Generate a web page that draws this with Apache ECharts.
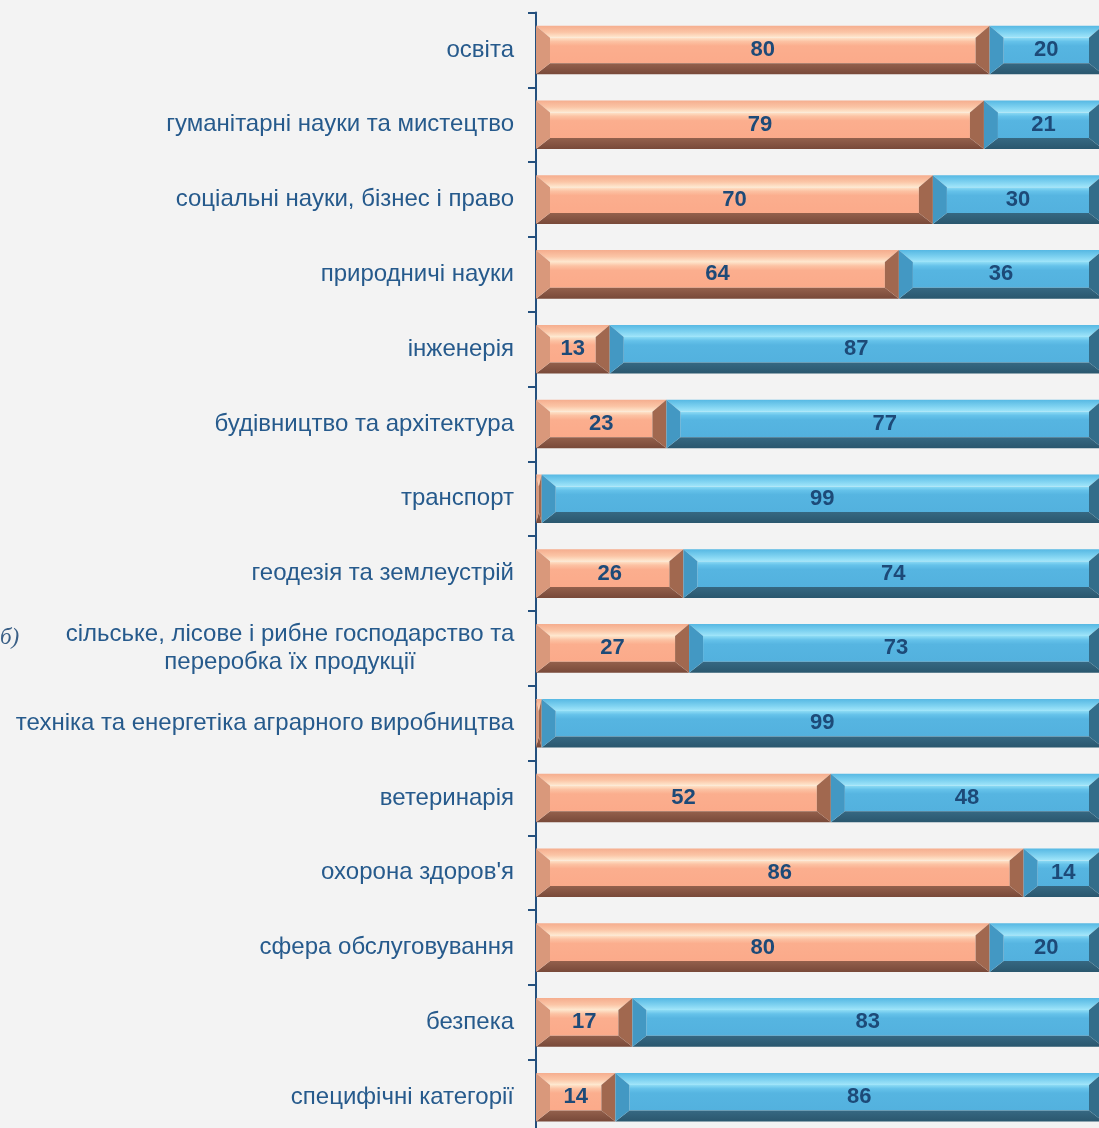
<!DOCTYPE html>
<html>
<head>
<meta charset="utf-8">
<script src="https://cdn.jsdelivr.net/npm/echarts@6/dist/echarts.min.js"></script>
<style>
  html, body { margin: 0; padding: 0; background: #f3f3f3; }
  #chart { width: 1099px; height: 1128px; }
</style>
</head>
<body>
<div id="chart"></div>
<script>
const categories = [
  'освіта',
  'гуманітарні науки та мистецтво',
  'соціальні науки, бізнес і право',
  'природничі науки',
  'інженерія',
  'будівництво та архітектура',
  'транспорт',
  'геодезія та землеустрій',
  'сільське, лісове і рибне господарство та\nпереробка їх продукції',
  'техніка та енергетіка аграрного виробництва',
  'ветеринарія',
  "охорона здоров'я",
  'сфера обслуговування',
  'безпека',
  'специфічні категорії'
]
const orangeValues = [80, 79, 70, 64, 13, 23, 1, 26, 27, 1, 52, 86, 80, 17, 14]
const blueValues = [20, 21, 30, 36, 87, 77, 99, 74, 73, 99, 48, 14, 20, 83, 86]

const textColor = '#265a8c'
const labelColor = '#1d4a78'

function grad(stops) {
  return new echarts.graphic.LinearGradient(0, 0, 0, 1,
    stops.map((c) => ({ offset: c[0], color: c[1] })))
}

// bevel colours for each series: top band, face, bottom band, left cap, right cap
const palettes = [
  {
    top: grad([[0, '#f5ad8e'], [0.55, '#fbc5a6'], [1, '#feead2']]),
    face: grad([[0, '#fee4ca'], [0.15, '#fcc2a3'], [0.32, '#fbae8e'], [1, '#fbaa8a']]),
    bottom: grad([[0, '#93604c'], [1, '#784939']]),
    left: '#d9987b',
    right: '#a1684f'
  },
  {
    top: grad([[0, '#56b8e3'], [0.55, '#7dd1f0'], [1, '#a2e6fa']]),
    face: grad([[0, '#8edcf5'], [0.15, '#65c2ea'], [0.32, '#56b5e1'], [1, '#53b1de']]),
    bottom: grad([[0, '#366882'], [1, '#2a576e']]),
    left: '#4398c3',
    right: '#336d8a'
  }
]

function segments(startVals, vals) {
  return vals.map((v, i) => {
    const s = startVals ? startVals[i] : 0
    return [s, s + v, i, v]
  })
}

function renderBevel(params, api) {
  const idx = api.value(2)
  const v = api.value(3)
  const p0 = api.coord([api.value(0), idx])
  const p1 = api.coord([api.value(1), idx])
  const h = api.size([0, 1])[1] * 0.65
  const x0 = p0[0]
  const x1 = p1[0]
  const w = x1 - x0
  const y0 = p0[1] - h / 2
  const y1 = p0[1] + h / 2
  const bx = Math.min(14, w / 2)
  const bt = 12
  const bb = 11
  const pal = palettes[params.seriesIndex]
  const children = [
    { type: 'rect', shape: { x: x0 + bx, y: y0 + bt, width: Math.max(w - 2 * bx, 0), height: h - bt - bb }, style: { fill: pal.face } },
    { type: 'polygon', shape: { points: [[x0, y0], [x1, y0], [x1 - bx, y0 + bt], [x0 + bx, y0 + bt]] }, style: { fill: pal.top } },
    { type: 'polygon', shape: { points: [[x0, y1], [x1, y1], [x1 - bx, y1 - bb], [x0 + bx, y1 - bb]] }, style: { fill: pal.bottom } },
    { type: 'polygon', shape: { points: [[x0, y0], [x0 + bx, y0 + bt], [x0 + bx, y1 - bb], [x0, y1]] }, style: { fill: pal.left } },
    { type: 'polygon', shape: { points: [[x1, y0], [x1 - bx, y0 + bt], [x1 - bx, y1 - bb], [x1, y1]] }, style: { fill: pal.right } }
  ]
  if (v >= 5) {
    children.push({
      type: 'text',
      x: (x0 + x1) / 2,
      y: p0[1],
      style: {
        text: String(v),
        fill: labelColor,
        font: 'bold 22px "Liberation Sans"',
        align: 'center',
        verticalAlign: 'middle'
      }
    })
  }
  return { type: 'group', children }
}

const chart = echarts.init(document.getElementById('chart'))

chart.setOption({
  backgroundColor: '#f3f3f3',
  animation: false,
  grid: { left: 536, width: 567, top: 12.6, height: 1122, outerBoundsMode: 'none' },
  xAxis: {
    type: 'value',
    min: 0,
    max: 100,
    show: false
  },
  yAxis: {
    type: 'category',
    inverse: true,
    data: categories.map((c) => c.includes('\n')
      ? { value: c, textStyle: { align: 'center', padding: [0, 448, 0, 0] } }
      : c),
    axisLine: { lineStyle: { color: '#24507e', width: 2 } },
    axisTick: { show: true, length: 8, lineStyle: { color: '#24507e', width: 2 } },
    axisLabel: {
      color: textColor,
      fontFamily: 'Liberation Sans',
      fontSize: 24,
      margin: 22,
      lineHeight: 28
    }
  },
  series: [
    {
      type: 'custom',
      renderItem: renderBevel,
      encode: { x: [0, 1], y: 2 },
      data: segments(null, orangeValues)
    },
    {
      type: 'custom',
      renderItem: renderBevel,
      encode: { x: [0, 1], y: 2 },
      data: segments(orangeValues, blueValues)
    }
  ],
  graphic: [
    {
      type: 'text',
      left: 0,
      top: 626,
      style: {
        text: 'б)',
        fill: '#3a5f86',
        font: 'italic 23px "Liberation Serif"'
      }
    }
  ]
})
</script>
</body>
</html>
